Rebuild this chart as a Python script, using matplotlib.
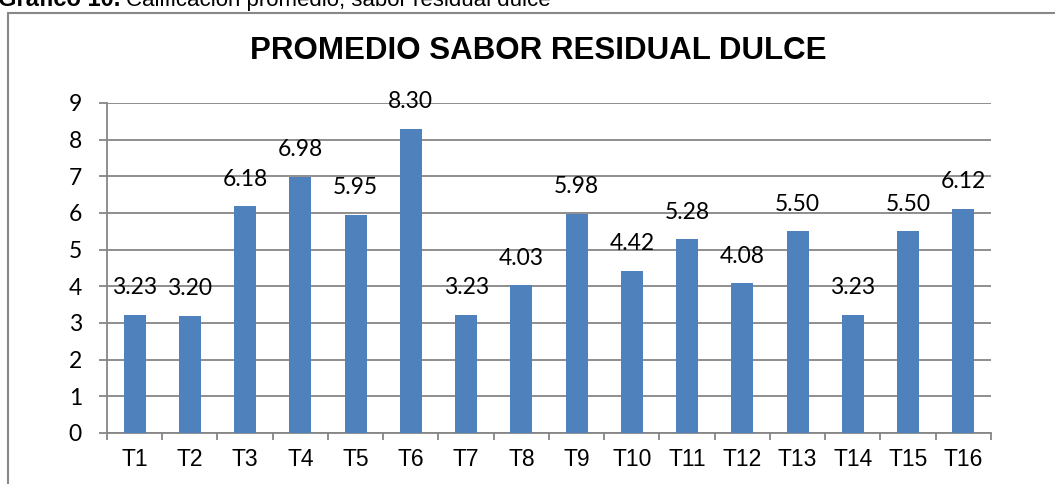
import matplotlib.pyplot as plt
from matplotlib.patches import Rectangle

categories = ['T1', 'T2', 'T3', 'T4', 'T5', 'T6', 'T7', 'T8',
              'T9', 'T10', 'T11', 'T12', 'T13', 'T14', 'T15', 'T16']
promedio = [3.23, 3.20, 6.18, 6.98, 5.95, 8.30, 3.23, 4.03,
            5.98, 4.42, 5.28, 4.08, 5.50, 3.23, 5.50, 6.12]
y_ticks = list(range(0, 10))

fig = plt.figure(figsize=(10.55, 4.84), dpi=100)
ax = fig.add_axes([0.1014, 0.1054, 0.8379, 0.6818])

x = range(len(categories))
ax.bar(x, promedio, width=0.4, color='#4F81BD', zorder=3)
for xi, v in zip(x, promedio):
    ax.text(xi, v + 0.74, f'{v:.2f}', ha='center', va='center',
            fontsize=16.5, family='Lato', zorder=4)

ax.set_xlim(-0.5, len(categories) - 0.5)
ax.set_ylim(0, 9)
ax.set_yticks(y_ticks)
ax.set_xticks(x)
ax.set_xticklabels(categories, fontsize=16.5, family='Liberation Sans')
ax.set_xticks([i - 0.5 for i in range(len(categories) + 1)], minor=True)
ax.tick_params(axis='x', which='major', length=0, pad=11)
ax.tick_params(axis='x', which='minor', length=5, color='#868686', width=1.3)
ax.tick_params(axis='y', length=6, color='#868686', width=1.3, pad=12)
for lbl in ax.get_yticklabels():
    lbl.set_fontsize(16.5)
    lbl.set_family('Lato')
ax.grid(axis='y', color='#868686', linewidth=1.3, zorder=0)
for side in ['top', 'right']:
    ax.spines[side].set_visible(False)
for side in ['left', 'bottom']:
    ax.spines[side].set_color('#868686')
    ax.spines[side].set_linewidth(1.3)

fig.text(0.51, 0.8946, 'PROMEDIO SABOR RESIDUAL DULCE', ha='center', va='center',
         fontsize=22.5, fontweight='bold', family='Liberation Sans')

# chart frame and caption
fig.patches.append(Rectangle((8 / 1055, -0.1), 1.2, 1 - 13 / 484 + 0.1,
                             transform=fig.transFigure, fill=False,
                             edgecolor='#888888', linewidth=1.5))
fig.text(-0.002, 1 - 6 / 484, 'Gráfico 10.', ha='left', va='baseline',
         fontsize=17, fontweight='bold', family='Liberation Sans')
fig.text(0.119, 1 - 6 / 484, 'Calificación promedio, sabor residual dulce',
         ha='left', va='baseline', fontsize=16, family='Liberation Sans')

fig.savefig('out.png', dpi=100)
